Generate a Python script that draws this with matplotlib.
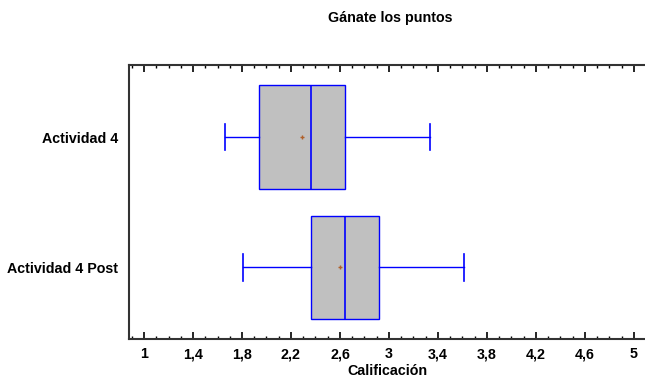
import matplotlib
matplotlib.use("Agg")
import matplotlib.pyplot as plt
from matplotlib.ticker import MultipleLocator, FixedLocator

plt.rcParams['font.family'] = ['Liberation Sans', 'DejaVu Sans']

categories = ["Actividad 4", "Actividad 4 Post"]
whislo = [1.665, 1.81]
q1 = [1.94, 2.36]
med = [2.36, 2.64]
q3 = [2.64, 2.92]
whishi = [3.335, 3.61]
means = [2.29, 2.60]
xticks = [1, 1.4, 1.8, 2.2, 2.6, 3, 3.4, 3.8, 4.2, 4.6, 5]
xticklabels = ["1", "1,4", "1,8", "2,2", "2,6", "3", "3,4", "3,8", "4,2", "4,6", "5"]

fig = plt.figure(figsize=(6.45, 3.79), dpi=100)
ax = fig.add_axes([129/645, 1 - 339/379, (646 - 129)/645, (339 - 65)/379])

stats = []
for i in range(len(categories)):
    stats.append(dict(label=categories[i], whislo=whislo[i], q1=q1[i], med=med[i],
                      q3=q3[i], whishi=whishi[i], mean=means[i], fliers=[]))

positions = [1, 0]
blue = "#0000ff"
ax.bxp(stats, positions=positions, vert=False, widths=0.79, patch_artist=True,
       showmeans=True, showfliers=False,
       boxprops=dict(facecolor="#c0c0c0", edgecolor=blue, linewidth=1.0),
       medianprops=dict(color=blue, linewidth=1.2),
       whiskerprops=dict(color=blue, linewidth=1.0),
       capprops=dict(color=blue, linewidth=1.2),
       capwidths=0.2,
       meanprops=dict(marker='+', markeredgecolor="#b0602a", markersize=3, markeredgewidth=1.0))

ax.set_xlim(0.877, 5.1)
ax.set_ylim(-0.548, 1.552)

ax.xaxis.set_major_locator(FixedLocator(xticks))
ax.set_xticklabels(xticklabels, fontsize=10.3, fontweight='bold')
ax.xaxis.set_minor_locator(MultipleLocator(0.1))
ax.tick_params(axis='x', which='major', direction='in', length=5, width=1.2,
               top=True, bottom=True, pad=6, colors='black')
ax.tick_params(axis='x', which='minor', direction='in', length=2.5, width=1.0,
               top=True, bottom=True)
ax.set_yticks(positions)
ax.set_yticklabels(categories, fontsize=10.3, fontweight='bold')
ax.tick_params(axis='y', which='both', length=0, pad=8)

for s in ['left', 'bottom', 'top']:
    ax.spines[s].set_linewidth(1.5)
    ax.spines[s].set_color('#333333')
ax.spines['right'].set_visible(False)

ax.set_xlabel("Calificación", fontsize=10.3, fontweight='bold', labelpad=2)
fig.text(390/645, 1 - 18/379, "Gánate los puntos", ha='center', va='center',
         fontsize=10.3, fontweight='bold')

fig.savefig("out.png", dpi=100)
